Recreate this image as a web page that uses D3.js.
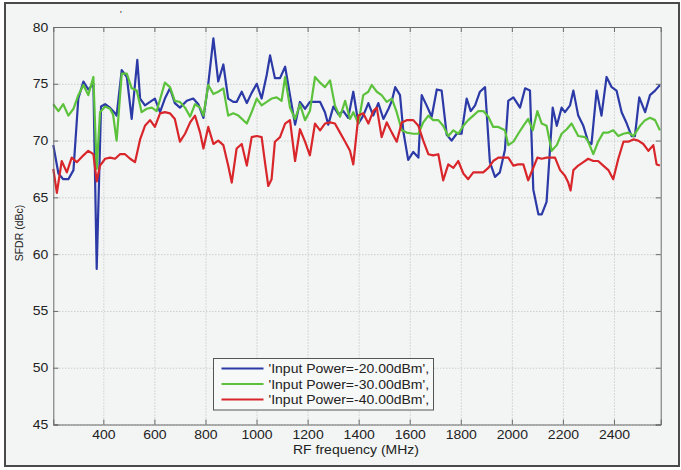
<!DOCTYPE html>
<html>
<head>
<meta charset="utf-8">
<script src="https://cdn.jsdelivr.net/npm/d3@7"></script>
<style>
body { margin: 0; background: #fff; }
text { font-family: "Liberation Sans", Arial, sans-serif; fill: #222; }
</style>
</head>
<body>
<script>
var w = 681;
var h = 470;

//Data
var xTicks = [400, 600, 800, 1000, 1200, 1400, 1600, 1800, 2000, 2200, 2400];
var yTicks = [45, 50, 55, 60, 65, 70, 75, 80];
var seriesNames = ["'Input Power=-20.00dBm',", "'Input Power=-30.00dBm',", "'Input Power=-40.00dBm',"];

var blueFreq = [204, 224, 243, 263, 283, 302, 322, 341, 361, 374, 385, 391, 407, 426, 446, 452, 472, 492, 511, 533,
    544, 563, 583, 602, 622, 641, 661, 680, 700, 727, 752, 772, 792, 811, 831, 850, 870, 889, 909, 922,
    942, 962, 981, 1001, 1020, 1040, 1053, 1072, 1092, 1112, 1131, 1151, 1170, 1190, 1209, 1229, 1249, 1268, 1281, 1301,
    1321, 1340, 1359, 1379, 1399, 1418, 1438, 1457, 1477, 1497, 1517, 1530, 1543, 1562, 1575, 1594, 1614, 1634, 1647, 1666,
    1686, 1706, 1725, 1745, 1764, 1784, 1803, 1823, 1839, 1856, 1875, 1895, 1914, 1934, 1953, 1973, 1986, 2006, 2032, 2052,
    2071, 2084, 2104, 2117, 2136, 2160, 2176, 2195, 2208, 2228, 2241, 2260, 2280, 2299, 2312, 2332, 2351, 2371, 2391, 2410,
    2430, 2450, 2469, 2482, 2499, 2522, 2541, 2561, 2580];
var blueSfdr = [69.6, 67.1, 66.6, 66.6, 67.4, 73.7, 75.2, 74.5, 75.0, 58.7, 68.0, 73.0, 73.2, 72.9, 72.4, 72.2, 76.2, 75.6, 71.9, 77.1,
    73.7, 73.1, 73.4, 73.7, 72.5, 73.7, 74.6, 73.3, 72.9, 73.5, 73.7, 73.2, 72.0, 75.0, 79.0, 75.2, 76.7, 73.7, 73.4, 73.4,
    74.3, 73.3, 74.2, 75.0, 73.7, 75.8, 77.5, 75.5, 75.5, 76.5, 74.0, 71.4, 73.4, 72.8, 73.4, 73.4, 73.4, 72.5, 71.4, 73.0,
    72.3, 72.6, 72.0, 74.3, 71.5, 72.2, 73.3, 72.2, 73.3, 71.9, 72.8, 73.5, 74.7, 74.0, 70.8, 68.3, 69.0, 68.5, 74.0, 73.1,
    72.1, 74.5, 74.4, 70.5, 70.0, 70.6, 70.6, 73.7, 72.6, 73.1, 74.3, 74.7, 68.1, 66.8, 67.2, 69.2, 73.5, 73.8, 72.9, 74.6,
    74.4, 65.7, 63.5, 63.5, 64.6, 72.9, 71.3, 72.9, 72.5, 73.1, 74.4, 72.2, 71.3, 69.9, 69.7, 74.4, 72.2, 75.6, 74.7, 74.4,
    72.5, 71.5, 70.4, 70.4, 73.8, 72.5, 74.0, 74.4, 74.9];

var greenFreq = [204, 224, 243, 263, 283, 302, 322, 341, 361, 374, 387, 407, 426, 438, 452, 472, 492, 511, 531, 550,
    570, 590, 609, 641, 661, 680, 700, 720, 740, 759, 779, 792, 811, 831, 850, 870, 889, 909, 929, 962,
    981, 1001, 1020, 1040, 1059, 1079, 1098, 1112, 1131, 1151, 1170, 1190, 1209, 1229, 1249, 1268, 1288, 1307, 1327, 1347,
    1366, 1379, 1399, 1418, 1438, 1451, 1471, 1490, 1510, 1530, 1549, 1569, 1588, 1614, 1634, 1653, 1673, 1692, 1712, 1731,
    1751, 1771, 1790, 1810, 1829, 1849, 1869, 1888, 1908, 1927, 1947, 1973, 1986, 2006, 2025, 2045, 2064, 2082, 2100, 2117,
    2136, 2156, 2176, 2195, 2215, 2234, 2248, 2260, 2287, 2299, 2319, 2338, 2358, 2378, 2397, 2417, 2437, 2456, 2476, 2502,
    2522, 2541, 2561, 2580];
var greenSfdr = [73.2, 72.6, 73.2, 72.2, 72.8, 74.0, 74.9, 74.0, 75.6, 67.5, 72.5, 73.0, 72.8, 72.3, 70.0, 75.9, 75.9, 74.6, 74.4, 72.5,
    72.8, 72.9, 72.6, 75.1, 74.7, 73.5, 73.4, 72.9, 72.1, 73.2, 72.9, 72.2, 74.9, 74.1, 74.3, 74.6, 72.2, 72.4, 72.2, 71.5,
    72.5, 73.7, 73.1, 73.4, 73.7, 73.8, 73.5, 75.6, 72.9, 71.9, 73.2, 71.8, 72.6, 75.6, 75.1, 74.7, 75.3, 73.1, 72.1, 73.5,
    71.9, 72.5, 71.5, 74.0, 74.3, 74.9, 74.3, 74.0, 73.4, 73.7, 72.5, 70.9, 70.7, 70.6, 70.6, 71.6, 72.2, 71.8, 71.8, 71.3,
    70.4, 70.9, 70.6, 71.3, 71.8, 72.2, 72.6, 72.6, 72.1, 71.2, 71.2, 70.9, 69.6, 69.9, 70.6, 71.3, 71.9, 70.9, 72.6, 71.5,
    71.3, 69.1, 69.6, 70.6, 71.0, 71.5, 70.9, 70.4, 70.3, 69.9, 68.8, 69.9, 70.7, 70.7, 70.9, 70.4, 70.6, 70.7, 70.4, 71.3,
    71.8, 72.0, 71.8, 70.9];

var redFreq = [204, 218, 237, 257, 276, 296, 322, 341, 361, 374, 387, 407, 426, 446, 465, 485, 505, 524, 544, 563,
    583, 602, 622, 641, 661, 680, 700, 720, 740, 759, 779, 792, 811, 831, 850, 870, 889, 903, 922, 942,
    962, 981, 1001, 1020, 1033, 1046, 1059, 1072, 1092, 1112, 1131, 1151, 1170, 1190, 1209, 1229, 1249, 1268, 1288, 1307,
    1327, 1347, 1366, 1379, 1399, 1418, 1438, 1457, 1471, 1490, 1510, 1530, 1549, 1569, 1588, 1614, 1634, 1653, 1673, 1692,
    1712, 1731, 1751, 1771, 1790, 1810, 1829, 1849, 1869, 1888, 1908, 1927, 1947, 1973, 1986, 2006, 2025, 2045, 2064, 2082,
    2100, 2117, 2136, 2169, 2189, 2208, 2221, 2230, 2241, 2260, 2280, 2299, 2319, 2338, 2358, 2378, 2397, 2417, 2437, 2456,
    2476, 2495, 2515, 2535, 2554, 2567, 2580];
var redSfdr = [67.5, 65.4, 68.2, 67.2, 68.5, 68.1, 68.7, 69.1, 68.8, 66.4, 67.8, 68.4, 68.5, 68.4, 68.8, 68.8, 68.4, 68.1, 70.1, 71.3,
    71.8, 71.2, 72.4, 72.5, 72.4, 71.9, 69.9, 70.6, 71.6, 72.2, 70.7, 69.3, 71.2, 69.7, 70.0, 69.6, 67.8, 66.3, 69.3, 69.7,
    67.8, 70.3, 70.4, 70.3, 68.1, 66.0, 66.6, 69.9, 70.3, 71.5, 71.8, 68.2, 71.0, 69.9, 68.7, 71.5, 70.9, 71.5, 71.6, 71.5,
    70.7, 69.9, 69.1, 67.9, 72.2, 72.4, 71.5, 72.6, 72.9, 70.3, 71.6, 70.7, 69.9, 71.6, 71.8, 71.8, 71.3, 70.0, 68.8, 68.7,
    68.8, 66.5, 67.9, 67.6, 68.2, 67.1, 66.6, 67.2, 67.2, 67.2, 67.6, 68.2, 68.5, 68.5, 68.5, 67.8, 67.9, 67.9, 66.5, 67.5,
    68.5, 68.4, 68.5, 68.5, 67.4, 66.9, 66.3, 65.6, 67.4, 67.8, 68.1, 68.4, 68.2, 68.2, 67.8, 67.4, 66.6, 68.4, 69.9, 69.9,
    70.1, 70.0, 69.7, 69.1, 69.6, 67.9, 67.8];

var series = [
    {name: seriesNames[0], color: "#2b3aa6", pts: d3.zip(blueFreq, blueSfdr)},
    {name: seriesNames[1], color: "#5cc23c", pts: d3.zip(greenFreq, greenSfdr)},
    {name: seriesNames[2], color: "#d8262b", pts: d3.zip(redFreq, redSfdr)}
];

//Create SVG element
var svg = d3.select("body")
            .append("svg")
            .attr("width", w)
            .attr("height", h);

//frame
svg.append("rect")
    .attr("x", 5)
    .attr("y", 3)
    .attr("width", 674)
    .attr("height", 463)
    .attr("fill", "#f3f5f5")
    .attr("stroke", "#4a4a4a")
    .attr("stroke-width", 2);

var plotLeft = 53.3, plotRight = 660.7, plotTop = 27, plotBottom = 424.5;

var xScale = d3.scaleLinear()
               .domain([204, 2583])
               .range([plotLeft, plotRight]);
var yScale = d3.scaleLinear()
               .domain([45, 80])
               .range([plotBottom, plotTop]);

//grid
svg.append("g")
    .attr("class", "grid")
    .attr("transform", "translate(0," + plotBottom + ")")
    .call(d3.axisBottom(xScale).tickValues(xTicks).tickSize(-(plotBottom - plotTop)).tickFormat(""));
svg.append("g")
    .attr("class", "grid")
    .attr("transform", "translate(" + plotLeft + ",0)")
    .call(d3.axisLeft(yScale).tickValues(yTicks).tickSize(-(plotRight - plotLeft)).tickFormat(""));
svg.selectAll(".grid .domain").remove();
svg.selectAll(".grid line")
    .attr("stroke", "#b9b9b9")
    .attr("stroke-dasharray", "1,2");

//lines
var line = d3.line()
             .x(function(d) { return xScale(d[0]); })
             .y(function(d) { return yScale(d[1]); });

svg.selectAll(".series")
    .data(series)
    .enter()
    .append("path")
    .attr("class", "series")
    .attr("d", function(d) { return line(d.pts); })
    .attr("fill", "none")
    .attr("stroke", function(d) { return d.color; })
    .attr("stroke-width", 2.2)
    .attr("stroke-linejoin", "round");

//axes, ticks pointing in like matlab
var xAxis = d3.axisBottom(xScale).tickValues(xTicks).tickSize(-5).tickPadding(6).tickFormat(d3.format("d"));
var yAxis = d3.axisLeft(yScale).tickValues(yTicks).tickSize(-5).tickPadding(5).tickFormat(d3.format("d"));

svg.append("g")
    .attr("class", "axis")
    .attr("transform", "translate(0," + plotBottom + ")")
    .call(xAxis);
svg.append("g")
    .attr("class", "axis")
    .attr("transform", "translate(0," + plotTop + ")")
    .call(d3.axisTop(xScale).tickValues(xTicks).tickSize(-5).tickFormat(""));
svg.append("g")
    .attr("class", "axis")
    .attr("transform", "translate(" + plotLeft + ",0)")
    .call(yAxis);
svg.append("g")
    .attr("class", "axis")
    .attr("transform", "translate(" + plotRight + ",0)")
    .call(d3.axisRight(yScale).tickValues(yTicks).tickSize(-5).tickFormat(""));

svg.selectAll(".axis path.domain").attr("stroke", "#6a6a6a");
svg.selectAll(".axis line").attr("stroke", "#6a6a6a");
svg.selectAll(".axis text")
    .attr("font-size", 12.5)
    .attr("font-family", "Liberation Sans, Arial, sans-serif")
    .attr("fill", "#222");
svg.selectAll(".axis text").each(function() {
    var t = d3.select(this);
    t.attr("transform", "scale(1.12,1)")
     .attr("x", (+t.attr("x") || 0) / 1.12);
});

//labels
svg.append("text")
    .attr("transform", "translate(356,454) scale(1.12,1)")
    .attr("text-anchor", "middle")
    .attr("font-size", 12.5)
    .text("RF frequency (MHz)");

svg.append("text")
    .attr("transform", "translate(23,233) rotate(-90)")
    .attr("text-anchor", "middle")
    .attr("font-size", 10.5)
    .text("SFDR (dBc)");

svg.append("text")
    .attr("x", 120)
    .attr("y", 17)
    .attr("font-size", 9)
    .text("'");

//legend
var legend = svg.append("g")
                .attr("transform", "translate(213.5,358.5)");
legend.append("rect")
    .attr("width", 220)
    .attr("height", 51.5)
    .attr("fill", "#f7f8f8")
    .attr("stroke", "#555")
    .attr("stroke-width", 1);
var items = legend.selectAll(".item")
    .data(series)
    .enter()
    .append("g")
    .attr("class", "item")
    .attr("transform", function(d, i) { return "translate(0," + (10 + i * 15.5) + ")"; });
items.append("line")
    .attr("x1", 8)
    .attr("x2", 50)
    .attr("stroke", function(d) { return d.color; })
    .attr("stroke-width", 2);
items.append("text")
    .attr("transform", "translate(55,4.5) scale(1.12,1)")
    .attr("font-size", 12.5)
    .text(function(d) { return d.name; });
</script>
</body>
</html>
